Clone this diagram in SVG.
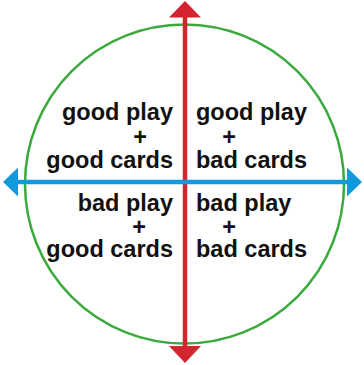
<svg xmlns="http://www.w3.org/2000/svg" width="364" height="365" viewBox="0 0 364 365">
<style>
.t{font-family:"Liberation Sans",Arial,sans-serif;font-weight:bold;font-size:23.5px;fill:#111}
.l{text-anchor:end}
.r{text-anchor:start}
.m{text-anchor:middle}
</style>
<rect width="364" height="365" fill="#fff"/>
<g id="circle"><circle cx="184.5" cy="184" r="159.5" fill="none" stroke="#3aaa3c" stroke-width="2.5"/></g>
<g id="connectors">
<line x1="185" y1="15" x2="185" y2="348" stroke="#d5242f" stroke-width="4.5"/>
<polygon points="185,1 201,17.5 169,17.5" fill="#d5242f"/>
<polygon points="185,363 201,346 169,346" fill="#d5242f"/>
<line x1="15" y1="182" x2="350" y2="182" stroke="#1199dc" stroke-width="4.5"/>
<polygon points="3,182 18,167.5 18,196.5" fill="#1199dc"/>
<polygon points="362,182 347,167.5 347,196.5" fill="#1199dc"/>
</g>
<g id="q1">
<text class="t l" x="173" y="119.5">good play</text>
<text class="t m" x="140" y="145">+</text>
<text class="t l" x="173" y="167.5">good cards</text>
</g>
<g id="q2">
<text class="t r" x="196" y="119.5">good play</text>
<text class="t m" x="229" y="145">+</text>
<text class="t r" x="196" y="167.5">bad cards</text>
</g>
<g id="q3">
<text class="t l" x="173" y="211">bad play</text>
<text class="t m" x="139" y="235">+</text>
<text class="t l" x="173" y="257">good cards</text>
</g>
<g id="q4">
<text class="t r" x="196" y="211">bad play</text>
<text class="t m" x="229" y="235">+</text>
<text class="t r" x="196" y="257">bad cards</text>
</g>
</svg>
